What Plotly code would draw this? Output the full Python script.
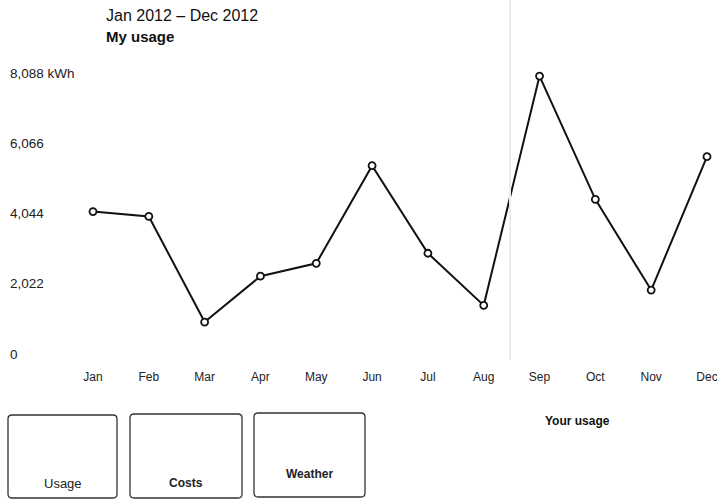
import plotly.graph_objects as go

months = ["Jan", "Feb", "Mar", "Apr", "May", "Jun", "Jul", "Aug", "Sep", "Oct", "Nov", "Dec"]
usage_kwh = [4100, 3960, 920, 2240, 2610, 5420, 2900, 1400, 8000, 4450, 1840, 5680]
y_tick_vals = [0, 2022, 4044, 6066, 8088]
y_tick_text = ["0", "2,022", "4,044", "6,066", "8,088 kWh"]
buttons = ["Usage", "Costs", "Weather"]

W, H = 717, 502
FONT = "Liberation Sans, Arial, Helvetica, sans-serif"

def px(x):
    return x / W

def py(y):
    return 1 - y / H

fig = go.Figure()
fig.add_trace(go.Scatter(
    x=list(range(len(months))), y=usage_kwh, mode="lines+markers",
    line=dict(color="#111111", width=2),
    marker=dict(symbol="circle", size=7, color="white",
                line=dict(color="#111111", width=1.8)),
    cliponaxis=False, showlegend=False, hoverinfo="x+y",
))

shapes = []
# faint vertical divider
shapes.append(dict(type="line", xref="paper", yref="paper",
                   x0=px(510), x1=px(510), y0=py(0), y1=py(360),
                   line=dict(color="#ececec", width=2)))

def rounded_box(x0, y0, x1, y1, r=4):
    rx, ry = r / W, r / H
    X0, X1, Y0, Y1 = px(x0), px(x1), py(y0), py(y1)
    return (f"M {X0+rx},{Y0} L {X1-rx},{Y0} Q {X1},{Y0} {X1},{Y0-ry} "
            f"L {X1},{Y1+ry} Q {X1},{Y1} {X1-rx},{Y1} "
            f"L {X0+rx},{Y1} Q {X0},{Y1} {X0},{Y1+ry} "
            f"L {X0},{Y0-ry} Q {X0},{Y0} {X0+rx},{Y0} Z")

boxes = [(8, 415, 117, 498), (130, 414, 242, 498), (254, 413, 365, 497)]
label_y = [483, 483, 474]
weights = ["normal", "bold", "bold"]
sizes = [13, 12, 12]
annotations = []
for (x0, y0, x1, y1), lab, ly, wgt, sz in zip(boxes, buttons, label_y, weights, sizes):
    shapes.append(dict(type="path", xref="paper", yref="paper",
                       path=rounded_box(x0, y0, x1, y1),
                       line=dict(color="#333333", width=1.3)))
    annotations.append(dict(xref="paper", yref="paper", x=px((x0 + x1) / 2), y=py(ly),
                            text=lab, showarrow=False, xanchor="center", yanchor="middle",
                            font=dict(family=FONT, size=sz, color="#222222", weight=wgt)))

annotations.append(dict(xref="paper", yref="paper", x=px(104), y=py(16),
                        text="Jan 2012 – Dec 2012", showarrow=False, xanchor="left",
                        yanchor="middle", font=dict(family=FONT, size=16, color="#111111")))
annotations.append(dict(xref="paper", yref="paper", x=px(104), y=py(36),
                        text="My usage", showarrow=False, xanchor="left",
                        yanchor="middle", font=dict(family=FONT, size=15, color="#111111", weight="bold")))
annotations.append(dict(xref="paper", yref="paper", x=px(577), y=py(421),
                        text="Your usage", showarrow=False, xanchor="center",
                        yanchor="middle", font=dict(family=FONT, size=12, color="#111111", weight="bold")))

# axis geometry
unit = 55.82
x_lo = -93 / unit
x_hi = 11 + (W - 707) / unit
ppu = (354 - 73) / 8088.0
top_px, bot_px = 60, 368
y_lo = -(bot_px - 354) / ppu
y_hi = (354 - top_px) / ppu

fig.update_layout(
    width=W, height=H,
    margin=dict(l=0, r=0, t=0, b=0),
    paper_bgcolor="white", plot_bgcolor="white",
    font=dict(family=FONT, size=12, color="#222222"),
    xaxis=dict(tickmode="array", tickvals=list(range(len(months))), ticktext=months,
               range=[x_lo, x_hi], domain=[0, 1], showgrid=False, zeroline=False,
               showline=False, ticks="", tickfont=dict(size=12, color="#222222"),
               ticklabeloverflow="allow", fixedrange=True),
    yaxis=dict(tickmode="array", tickvals=y_tick_vals, ticktext=y_tick_text,
               range=[y_lo, y_hi], domain=[1 - bot_px / H, 1 - top_px / H],
               showgrid=False, zeroline=False, showline=False, ticks="",
               ticklabelposition="inside", ticklabelstandoff=7,
               tickfont=dict(size=13.5, color="#222222"), fixedrange=True),
    shapes=shapes, annotations=annotations,
)

fig.write_html("out.html", config={"displayModeBar": False},
               post_script="document.body.style.margin='0';")
